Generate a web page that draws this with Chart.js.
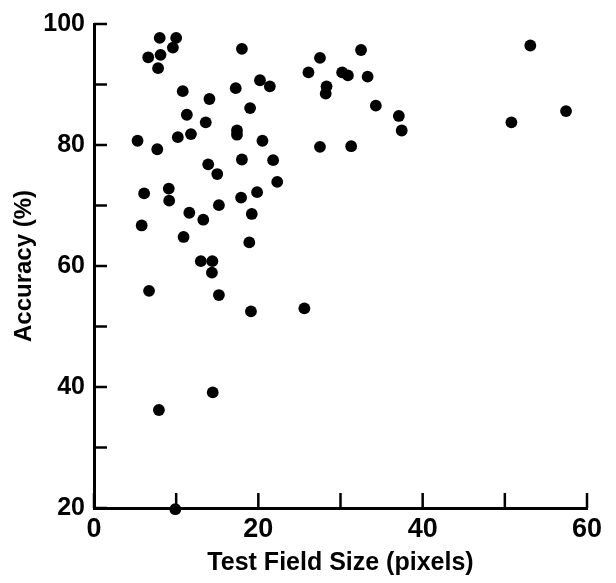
<!DOCTYPE html>
<html>
<head>
<meta charset="utf-8">
<script src="https://cdn.jsdelivr.net/npm/chart.js@4"></script>
<style>
  html, body { margin: 0; padding: 0; background: #fff; }
  #wrap { width: 616px; height: 583px; position: relative; }
</style>
</head>
<body>
<div id="wrap"><canvas id="c" width="616" height="583"></canvas></div>
<script>
// Test field size (pixels)
const fieldSize = [
  8.0, 10.0, 9.6, 8.1, 6.6, 7.8, 18.0, 20.2, 21.4, 17.25,
  10.8, 14.05, 19.0, 11.3, 13.6, 17.4, 17.4, 11.8, 10.2, 5.3,
  20.5, 7.7, 18.0, 13.9, 21.8, 15.0, 22.3, 6.1, 9.1, 9.15,
  17.9, 19.85, 15.2, 11.6, 13.3, 19.2, 5.8, 10.9, 18.9, 13.0,
  14.4, 14.35, 6.7, 15.2, 19.1, 7.9, 14.45, 9.9, 27.5, 32.5,
  26.1, 30.2, 30.9, 33.3, 28.3, 28.2, 34.3, 37.1, 37.45, 27.5,
  31.3, 53.1, 57.45, 50.8, 25.6
];
// Accuracy (%)
const accuracy = [
  97.7, 97.7, 96.1, 94.9, 94.5, 92.7, 95.9, 90.7, 89.7, 89.4,
  88.9, 87.6, 86.1, 85.0, 83.75, 82.4, 81.7, 81.8, 81.3, 80.7,
  80.7, 79.3, 77.6, 76.8, 77.5, 75.2, 73.9, 72.0, 72.8, 70.8,
  71.3, 72.2, 70.05, 68.8, 67.65, 68.6, 66.7, 64.8, 63.9, 60.8,
  60.8, 58.9, 55.9, 55.2, 52.5, 36.2, 39.1, 19.8, 94.4, 95.7,
  92.0, 92.0, 91.5, 91.3, 89.7, 88.5, 86.5, 84.8, 82.4, 79.7,
  79.8, 96.45, 85.6, 83.75, 53.0
];
const xTickLabels = ['0', '20', '40', '60'];
const yTickLabels = ['20', '40', '60', '80', '100'];
const xTitle = 'Test Field Size (pixels)';
const yTitle = 'Accuracy (%)';

const FONT = "'Liberation Sans', Arial, Helvetica, sans-serif";

const inwardTicks = {
  id: 'inwardTicks',
  beforeDatasetsDraw(chart) {
    const {ctx, chartArea, scales} = chart;
    ctx.save();
    ctx.strokeStyle = '#000';
    ctx.lineWidth = 2.5;
    ctx.lineCap = 'butt';
    scales.y.ticks.forEach(t => {
      const py = scales.y.getPixelForValue(t.value);
      ctx.beginPath();
      ctx.moveTo(chartArea.left, py);
      ctx.lineTo(chartArea.left + 13, py);
      ctx.stroke();
    });
    scales.x.ticks.forEach(t => {
      const px = scales.x.getPixelForValue(t.value);
      ctx.beginPath();
      ctx.moveTo(px, chartArea.bottom);
      ctx.lineTo(px, chartArea.bottom - 15);
      ctx.stroke();
    });
    ctx.restore();
  }
};

new Chart(document.getElementById('c'), {
  type: 'scatter',
  data: {
    datasets: [{
      data: fieldSize.map((x, i) => ({x: x, y: accuracy[i]})),
      backgroundColor: '#000',
      borderWidth: 0,
      pointRadius: 5.9,
      pointHoverRadius: 5.9,
      clip: false
    }]
  },
  options: {
    responsive: false,
    animation: false,
    devicePixelRatio: 1,
    layout: { padding: { top: 19, right: 29, bottom: 0, left: 0 } },
    plugins: { legend: { display: false }, tooltip: { enabled: false } },
    scales: {
      x: {
        type: 'linear',
        min: 0, max: 60,
        grid: { display: true, drawOnChartArea: false, drawTicks: false },
        border: { display: true, color: '#000', width: 3 },
        ticks: {
          stepSize: 10,
          padding: 5,
          color: '#000',
          font: { family: FONT, size: 27, weight: 'bold' },
          maxRotation: 0,
          autoSkip: false,
          callback: v => xTickLabels.includes(String(v)) ? String(v) : ''
        },
        title: {
          display: true, text: xTitle, color: '#000',
          font: { family: FONT, size: 25, weight: 'bold' },
          padding: { top: 0, bottom: 5 }
        },
        afterFit: s => { s.height = 583 - 508; }
      },
      y: {
        type: 'linear',
        min: 20, max: 100,
        grid: { display: true, drawOnChartArea: false, drawTicks: false },
        border: { display: true, color: '#000', width: 3 },
        ticks: {
          stepSize: 10,
          padding: 9,
          color: '#000',
          font: { family: FONT, size: 25, weight: 'bold' },
          autoSkip: false,
          callback: v => yTickLabels.includes(String(v)) ? String(v) : ''
        },
        title: {
          display: true, text: yTitle, color: '#000',
          font: { family: FONT, size: 24, weight: 'bold' },
          padding: { top: 10, bottom: 0 }
        },
        afterFit: s => { s.width = 94; }
      }
    }
  },
  plugins: [inwardTicks]
});
</script>
</body>
</html>
